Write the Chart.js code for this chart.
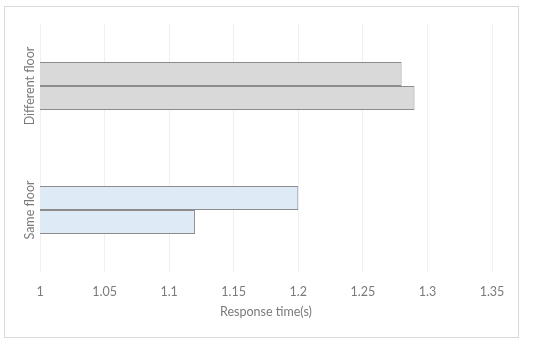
<!DOCTYPE html>
<html>
<head>
<meta charset="utf-8">
<script src="https://cdn.jsdelivr.net/npm/chart.js@4/dist/chart.umd.min.js"></script>
<style>
html,body{margin:0;padding:0;background:#fff;}
#wrap{width:550px;height:345px;}
</style>
</head>
<body>
<div id="wrap"><canvas id="c" width="550" height="345"></canvas></div>
<script>
const categories = ['Different floor', 'Same floor'];
const firstBar = [1.28, 1.2];
const secondBar = [1.29, 1.12];
const xTicks = [1, 1.05, 1.1, 1.15, 1.2, 1.25, 1.3, 1.35];
const fills = ['#d9d9d9', '#deebf7'];

const textColor = '#7a7a7a';
const fontFamily = 'Lato, "Open Sans", sans-serif';

// outer frame + rotated category labels
const framePlugin = {
  id: 'frame',
  beforeDraw(chart){
    const ctx = chart.ctx;
    ctx.save();
    ctx.fillStyle = '#fff';
    ctx.fillRect(0, 0, chart.width, chart.height);
    ctx.strokeStyle = '#d9d9d9';
    ctx.lineWidth = 1;
    ctx.strokeRect(4.5, 6.5, 514, 331);
    ctx.restore();
  },
  afterDraw(chart){
    const ctx = chart.ctx;
    const y = chart.scales.y;
    ctx.save();
    ctx.fillStyle = textColor;
    ctx.font = '12.5px ' + fontFamily;
    ctx.textAlign = 'center';
    ctx.textBaseline = 'middle';
    categories.forEach(function(lab, i){
      ctx.save();
      ctx.translate(30, y.getPixelForTick(i));
      ctx.rotate(-Math.PI / 2);
      ctx.fillText(lab, 0, 0);
      ctx.restore();
    });
    ctx.restore();
  }
};

new Chart(document.getElementById('c'), {
  type: 'bar',
  data: {
    labels: categories,
    datasets: [
      { data: firstBar, backgroundColor: fills, borderColor: '#8c8c8c', borderWidth: 1, borderSkipped: false },
      { data: secondBar, backgroundColor: fills, borderColor: '#8c8c8c', borderWidth: 1, borderSkipped: false }
    ]
  },
  options: {
    indexAxis: 'y',
    responsive: false,
    animation: false,
    devicePixelRatio: 1,
    layout: { padding: { left: 40, right: 58, top: 24, bottom: 0 } },
    datasets: { bar: { categoryPercentage: 0.387, barPercentage: 1 } },
    plugins: { legend: { display: false }, tooltip: { enabled: false } },
    scales: {
      y: { display: false },
      x: {
        min: xTicks[0],
        max: xTicks[xTicks.length - 1],
        afterBuildTicks(scale){ scale.ticks = xTicks.map(v => ({ value: v })); },
        afterFit(scale){ scale.height = 73; },
        grid: { color: '#f0f0f0', drawTicks: false },
        border: { display: false },
        ticks: {
          padding: 12,
          color: textColor,
          font: { family: fontFamily, size: 12.5 },
          callback: v => String(+Number(v).toFixed(2))
        },
        title: {
          display: true,
          text: 'Response time(s)',
          color: textColor,
          font: { family: fontFamily, size: 12.5 },
          padding: { top: 6, bottom: 26 }
        }
      }
    }
  },
  plugins: [framePlugin]
});
</script>
</body>
</html>
